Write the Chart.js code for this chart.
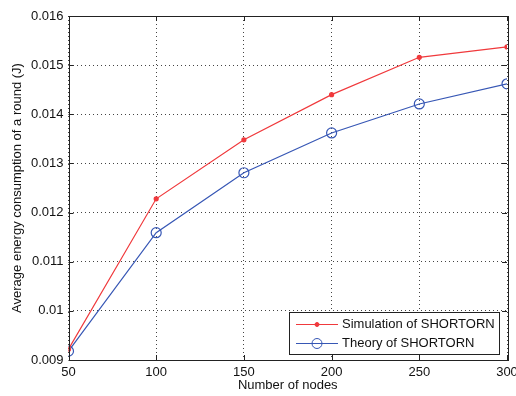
<!DOCTYPE html>
<html>
<head>
<meta charset="utf-8">
<script src="https://cdn.jsdelivr.net/npm/chart.js@4"></script>
<style>
  html, body { margin: 0; padding: 0; background: #fff; }
</style>
</head>
<body>
<canvas id="chart" width="516" height="396"></canvas>
<script>
// values
let nodes = [50, 100, 150, 200, 250, 300];
let simulation = [0.00922, 0.01228, 0.01348, 0.01440, 0.01516, 0.01537];
let theory = [0.00918, 0.01159, 0.01281, 0.01362, 0.01421, 0.01462];
let yTickLabels = {0.009: '0.009', 0.01: '0.01', 0.011: '0.011', 0.012: '0.012', 0.013: '0.013', 0.014: '0.014', 0.015: '0.015', 0.016: '0.016'};

let font = 'Liberation Sans, Arial, sans-serif';

// matlab-like box with inward ticks on all four sides
let boxPlugin = {
    id: 'box',
    afterDraw(chart) {
        let ctx = chart.ctx;
        let a = chart.chartArea;
        let xs = chart.scales.x;
        let ys = chart.scales.y;
        ctx.save();
        ctx.strokeStyle = '#222';
        ctx.lineWidth = 1;
        ctx.beginPath();
        xs.ticks.forEach(t => {
            let px = Math.round(xs.getPixelForValue(t.value)) + 0.5;
            ctx.moveTo(px, a.bottom); ctx.lineTo(px, a.bottom - 5);
            ctx.moveTo(px, a.top); ctx.lineTo(px, a.top + 5);
        });
        ys.ticks.forEach(t => {
            let py = Math.round(ys.getPixelForValue(t.value)) + 0.5;
            ctx.moveTo(a.left, py); ctx.lineTo(a.left + 5, py);
            ctx.moveTo(a.right, py); ctx.lineTo(a.right - 5, py);
        });
        ctx.stroke();
        ctx.strokeRect(Math.round(a.left) + 0.5, Math.round(a.top) + 0.5,
            Math.round(a.right - a.left), Math.round(a.bottom - a.top));
        ctx.restore();
    }
};

// legend box inside the lower right corner
let legendPlugin = {
    id: 'innerLegend',
    afterDraw(chart) {
        let ctx = chart.ctx;
        let a = chart.chartArea;
        let w = 210, h = 42;
        let x0 = a.right - 8 - w, y0 = a.bottom - 6 - h;
        ctx.save();
        ctx.fillStyle = '#fff';
        ctx.fillRect(x0, y0, w, h);
        ctx.strokeStyle = '#222';
        ctx.lineWidth = 1;
        ctx.strokeRect(Math.round(x0) + 0.5, Math.round(y0) + 0.5, w, h);
        ctx.font = '13px ' + font;
        ctx.textBaseline = 'middle';
        chart.data.datasets.forEach((ds, i) => {
            let cy = Math.round(y0 + 12 + i * 19) + 0.5;
            ctx.strokeStyle = ds.borderColor;
            ctx.lineWidth = 1;
            ctx.beginPath();
            ctx.moveTo(x0 + 7, cy); ctx.lineTo(x0 + 49, cy);
            ctx.stroke();
            ctx.beginPath();
            ctx.arc(x0 + 28, cy, ds.pointRadius, 0, Math.PI * 2);
            if (ds.pointBackgroundColor !== 'transparent') {
                ctx.fillStyle = ds.pointBackgroundColor;
                ctx.fill();
            }
            ctx.stroke();
            ctx.fillStyle = '#111';
            ctx.fillText(ds.label, x0 + 53, cy);
        });
        ctx.restore();
    }
};

let grid = {
    color: '#444',
    lineWidth: 1,
    drawTicks: false
};
let border = { display: false, dash: [1, 3] };

chart = new Chart(document.getElementById('chart'), {
    type: 'line',
    data: {
        datasets: [
            {
                label: 'Simulation of SHORTORN',
                data: nodes.map((n, i) => ({x: n, y: simulation[i]})),
                borderColor: '#f0393c',
                backgroundColor: '#f0393c',
                pointBackgroundColor: '#f0393c',
                pointBorderColor: '#f0393c',
                pointRadius: 2,
                borderWidth: 1.2,
                tension: 0
            },
            {
                label: 'Theory of SHORTORN',
                data: nodes.map((n, i) => ({x: n, y: theory[i]})),
                borderColor: '#3757b5',
                backgroundColor: 'transparent',
                pointBackgroundColor: 'transparent',
                pointBorderColor: '#3757b5',
                pointRadius: 5,
                pointBorderWidth: 1.2,
                borderWidth: 1.2,
                tension: 0
            }
        ]
    },
    options: {
        responsive: false,
        animation: false,
        layout: { padding: { top: 16, right: 9, left: 0, bottom: 0 } },
        plugins: {
            legend: { display: false },
            tooltip: { enabled: false }
        },
        scales: {
            x: {
                type: 'linear',
                min: 50,
                max: 300,
                grid: grid,
                border: border,
                ticks: {
                    stepSize: 50,
                    padding: 5,
                    color: '#111',
                    font: { family: font, size: 13 }
                },
                title: {
                    display: true,
                    text: 'Number of nodes',
                    color: '#111',
                    font: { family: font, size: 13 },
                    padding: { top: 0, bottom: 3 }
                },
                afterFit(scale) {
                    scale.height = 36;
                    scale.paddingLeft = 0;
                    scale.paddingRight = 0;
                }
            },
            y: {
                min: 0.009,
                max: 0.016,
                grid: grid,
                border: border,
                ticks: {
                    stepSize: 0.001,
                    padding: 5,
                    color: '#111',
                    font: { family: font, size: 13 },
                    callback: v => yTickLabels[Math.round(v * 1000) / 1000]
                },
                title: {
                    display: true,
                    text: 'Average energy consumption of a round (J)',
                    color: '#111',
                    font: { family: font, size: 13 },
                    padding: { top: 10, bottom: 0 }
                },
                afterFit(scale) {
                    scale.width = 68.5;
                }
            }
        }
    },
    plugins: [boxPlugin, legendPlugin]
});
</script>
</body>
</html>
